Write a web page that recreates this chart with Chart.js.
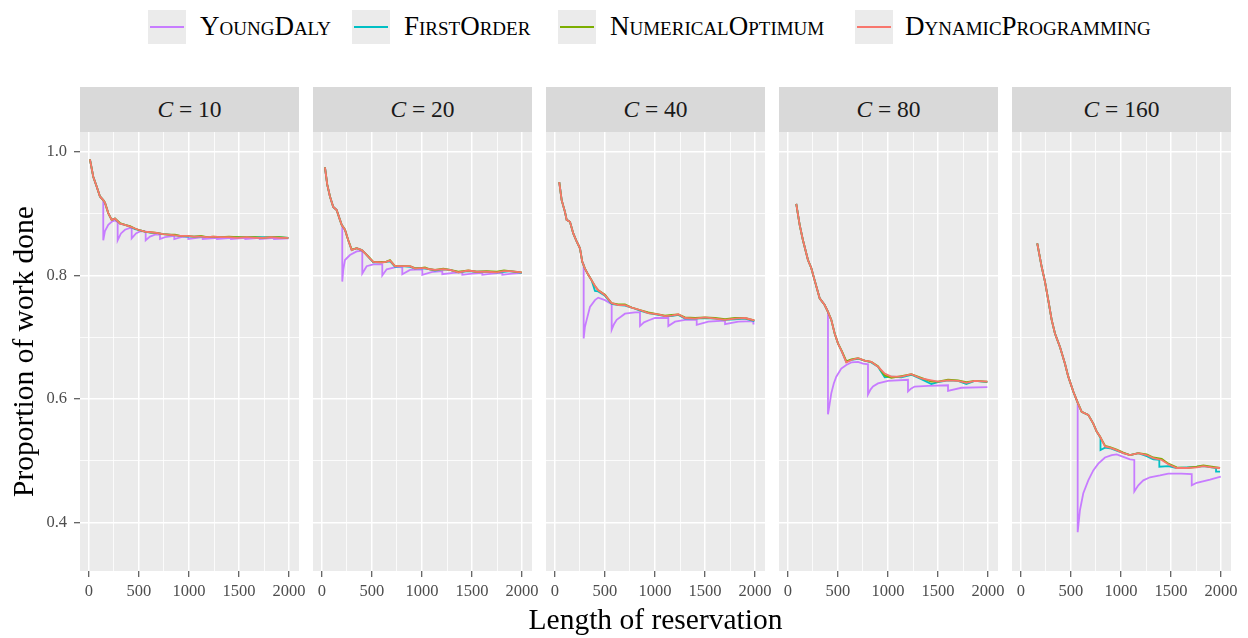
<!DOCTYPE html>
<html>
<head>
<meta charset="utf-8">
<script src="https://cdn.jsdelivr.net/npm/chart.js@4.4.1/dist/chart.umd.min.js"></script>
<style>
  html, body { margin:0; padding:0; background:#fff; }
  body { width:1248px; height:638px; overflow:hidden; position:relative; font-family:'Liberation Serif','Times New Roman',serif; }
  canvas { position:absolute; }
  .strip { position:absolute; top:87px; width:219px; height:45px; background:#D9D9D9; color:#1A1A1A;
           font-size:23.5px; line-height:45px; text-align:center; white-space:nowrap; }
  .key { position:absolute; top:10px; width:38px; height:34px; background:#EBEBEB; }
  .key span { position:absolute; left:2px; right:2px; top:16px; height:1.8px; }
  .ltext { position:absolute; top:13.4px; font-size:27px; line-height:1; font-variant:small-caps; color:#000; white-space:nowrap; }
  .xtitle { position:absolute; left:80px; width:1151px; top:605px; text-align:center; font-size:29.5px; line-height:1; color:#000; }
</style>
</head>
<body>
<div class="key" style="left:148px"><span style="background:#C77CFF"></span></div><div class="ltext" style="left:200px">YoungDaly</div>
<div class="key" style="left:352px"><span style="background:#00BFC4"></span></div><div class="ltext" style="left:404px">FirstOrder</div>
<div class="key" style="left:558px"><span style="background:#7CAE00"></span></div><div class="ltext" style="left:610px">NumericalOptimum</div>
<div class="key" style="left:855px"><span style="background:#F8766D"></span></div><div class="ltext" style="left:905px">DynamicProgramming</div>

<div id="strips"></div>
<canvas id="c0" width="311" height="489" style="left:0px;top:132px"></canvas>
<canvas id="c1" width="231" height="489" style="left:313px;top:132px"></canvas>
<canvas id="c2" width="231" height="489" style="left:546px;top:132px"></canvas>
<canvas id="c3" width="231" height="489" style="left:779px;top:132px"></canvas>
<canvas id="c4" width="231" height="489" style="left:1012px;top:132px"></canvas>
<div class="xtitle">Length of reservation</div>

<script>
// ---------------- data ----------------
const capacities = [10, 20, 40, 80, 160];
const seriesNames = ['YoungDaly', 'FirstOrder', 'NumericalOptimum', 'DynamicProgramming'];
const seriesColors = ['#C77CFF', '#00BFC4', '#7CAE00', '#F8766D'];
const xTickMajor = [0, 500, 1000, 1500, 2000];
const xTickMinor = [250, 750, 1250, 1750];
const yTickMajor = [0.4, 0.6, 0.8, 1.0];
const yTickMinor = [0.5, 0.7, 0.9];

// C = 10
const c10_x  = [10, 43, 77, 110, 143, 160, 193, 227, 260, 310, 360, 410, 460, 493, 560, 620, 677, 740, 800, 860, 910, 980, 1050, 1120, 1180, 1243, 1320, 1400, 1480, 1577, 1660, 1740, 1820, 1900, 1993];
const c10_dp = [0.988, 0.960, 0.944, 0.928, 0.922, 0.918, 0.901, 0.890, 0.892, 0.884, 0.882, 0.879, 0.876, 0.874, 0.871, 0.870, 0.869, 0.867, 0.866, 0.865, 0.864, 0.864, 0.863, 0.863, 0.862, 0.863, 0.862, 0.862, 0.861, 0.862, 0.861, 0.861, 0.862, 0.861, 0.861];
const c10_no = [0.988, 0.960, 0.944, 0.928, 0.922, 0.918, 0.901, 0.890, 0.892, 0.885, 0.882, 0.880, 0.876, 0.874, 0.871, 0.870, 0.869, 0.867, 0.866, 0.866, 0.864, 0.864, 0.863, 0.864, 0.862, 0.863, 0.862, 0.863, 0.862, 0.862, 0.862, 0.861, 0.862, 0.862, 0.861];
const c10_fo = [0.988, 0.960, 0.944, 0.928, 0.922, 0.918, 0.901, 0.890, 0.892, 0.884, 0.882, 0.879, 0.875, 0.874, 0.871, 0.869, 0.869, 0.867, 0.866, 0.865, 0.864, 0.863, 0.863, 0.863, 0.862, 0.862, 0.862, 0.862, 0.862, 0.862, 0.862, 0.862, 0.862, 0.862, 0.861];
const c10_ydX = [10, 43, 77, 110, 143, 143, 160, 193, 227, 260, 287, 287, 320, 360, 410, 427, 427, 470, 520, 567, 567, 610, 660, 710, 710, 760, 853, 853, 920, 993, 993, 1137, 1137, 1280, 1280, 1420, 1420, 1563, 1563, 1707, 1707, 1850, 1850, 1993];
const c10_ydY = [0.988, 0.960, 0.944, 0.928, 0.921, 0.857, 0.872, 0.882, 0.887, 0.889, 0.886, 0.857, 0.868, 0.874, 0.877, 0.876, 0.860, 0.868, 0.872, 0.871, 0.857, 0.863, 0.866, 0.866, 0.859, 0.862, 0.864, 0.859, 0.862, 0.863, 0.859, 0.862, 0.859, 0.861, 0.859, 0.861, 0.859, 0.861, 0.859, 0.861, 0.859, 0.861, 0.859, 0.860];

// C = 20
const c20_x  = [30, 53, 80, 113, 147, 180, 197, 230, 263, 297, 347, 397, 430, 463, 513, 597, 640, 680, 730, 800, 880, 930, 980, 1030, 1080, 1130, 1213, 1280, 1363, 1463, 1547, 1647, 1747, 1820, 1880, 1997];
const c20_dp = [0.975, 0.947, 0.928, 0.911, 0.906, 0.890, 0.882, 0.874, 0.857, 0.841, 0.844, 0.841, 0.836, 0.830, 0.822, 0.821, 0.822, 0.824, 0.815, 0.815, 0.815, 0.811, 0.812, 0.812, 0.810, 0.809, 0.810, 0.809, 0.805, 0.808, 0.806, 0.806, 0.805, 0.807, 0.807, 0.805];
const c20_no = [0.975, 0.947, 0.928, 0.911, 0.906, 0.890, 0.882, 0.874, 0.857, 0.842, 0.844, 0.841, 0.836, 0.831, 0.822, 0.822, 0.822, 0.825, 0.815, 0.815, 0.815, 0.812, 0.812, 0.813, 0.810, 0.809, 0.811, 0.809, 0.806, 0.808, 0.806, 0.807, 0.806, 0.808, 0.807, 0.805];
const c20_fo = [0.975, 0.947, 0.928, 0.911, 0.906, 0.890, 0.882, 0.874, 0.857, 0.841, 0.844, 0.841, 0.836, 0.830, 0.821, 0.821, 0.822, 0.823, 0.814, 0.815, 0.814, 0.811, 0.812, 0.811, 0.810, 0.808, 0.810, 0.809, 0.805, 0.807, 0.806, 0.806, 0.805, 0.806, 0.807, 0.804];
const c20_ydX = [30, 53, 80, 113, 147, 180, 203, 203, 213, 230, 280, 347, 403, 403, 447, 513, 603, 603, 647, 747, 803, 803, 880, 1003, 1003, 1113, 1203, 1203, 1313, 1403, 1403, 1500, 1603, 1603, 1700, 1803, 1803, 1900, 1997];
const c20_ydY = [0.975, 0.947, 0.928, 0.911, 0.906, 0.890, 0.880, 0.790, 0.809, 0.825, 0.833, 0.839, 0.840, 0.803, 0.815, 0.818, 0.818, 0.800, 0.810, 0.814, 0.813, 0.802, 0.809, 0.810, 0.801, 0.806, 0.807, 0.802, 0.804, 0.805, 0.801, 0.803, 0.804, 0.801, 0.803, 0.804, 0.801, 0.803, 0.804];

// C = 40
const c40_x  = [43, 67, 100, 117, 150, 183, 217, 250, 273, 300, 333, 367, 400, 433, 500, 567, 633, 700, 767, 850, 933, 1033, 1100, 1167, 1233, 1300, 1400, 1500, 1600, 1700, 1800, 1900, 1993];
const c40_dp = [0.951, 0.922, 0.903, 0.890, 0.887, 0.868, 0.855, 0.844, 0.822, 0.811, 0.801, 0.792, 0.783, 0.776, 0.768, 0.755, 0.752, 0.752, 0.748, 0.744, 0.739, 0.737, 0.734, 0.735, 0.737, 0.731, 0.730, 0.732, 0.730, 0.728, 0.730, 0.731, 0.727];
const c40_no = [0.951, 0.922, 0.903, 0.890, 0.887, 0.868, 0.855, 0.844, 0.822, 0.811, 0.801, 0.792, 0.783, 0.776, 0.769, 0.755, 0.753, 0.753, 0.748, 0.744, 0.740, 0.737, 0.735, 0.736, 0.737, 0.732, 0.731, 0.732, 0.731, 0.729, 0.731, 0.731, 0.727];
const c40_fo = [0.951, 0.922, 0.903, 0.890, 0.887, 0.868, 0.855, 0.844, 0.822, 0.811, 0.801, 0.792, 0.775, 0.774, 0.767, 0.754, 0.752, 0.751, 0.748, 0.743, 0.739, 0.736, 0.734, 0.734, 0.736, 0.730, 0.730, 0.731, 0.730, 0.728, 0.729, 0.730, 0.726];
const c40_ydX = [43, 67, 100, 117, 150, 183, 217, 250, 273, 287, 287, 300, 317, 350, 400, 433, 500, 550, 567, 567, 590, 617, 700, 800, 850, 850, 890, 933, 1000, 1133, 1133, 1200, 1300, 1417, 1417, 1533, 1700, 1700, 1833, 1983, 1983, 1993];
const c40_ydY = [0.951, 0.922, 0.903, 0.890, 0.887, 0.868, 0.855, 0.844, 0.822, 0.818, 0.698, 0.717, 0.728, 0.749, 0.760, 0.764, 0.760, 0.755, 0.754, 0.712, 0.721, 0.728, 0.738, 0.740, 0.740, 0.718, 0.724, 0.727, 0.731, 0.731, 0.718, 0.725, 0.728, 0.728, 0.720, 0.725, 0.727, 0.721, 0.725, 0.726, 0.722, 0.722];

// C = 80
const c80_x  = [83, 117, 150, 200, 233, 267, 317, 367, 400, 433, 467, 500, 540, 583, 633, 700, 767, 833, 900, 967, 1033, 1133, 1233, 1333, 1433, 1500, 1600, 1700, 1783, 1867, 1993];
const c80_dp = [0.916, 0.882, 0.857, 0.825, 0.812, 0.792, 0.763, 0.752, 0.741, 0.728, 0.706, 0.690, 0.676, 0.659, 0.663, 0.666, 0.662, 0.660, 0.652, 0.641, 0.636, 0.636, 0.640, 0.633, 0.630, 0.628, 0.630, 0.629, 0.626, 0.629, 0.628];
const c80_no = [0.916, 0.882, 0.857, 0.825, 0.812, 0.792, 0.763, 0.752, 0.741, 0.728, 0.706, 0.690, 0.677, 0.661, 0.664, 0.666, 0.662, 0.660, 0.653, 0.638, 0.634, 0.637, 0.640, 0.634, 0.628, 0.628, 0.631, 0.630, 0.627, 0.629, 0.628];
const c80_fo = [0.916, 0.882, 0.857, 0.825, 0.812, 0.792, 0.763, 0.752, 0.741, 0.728, 0.706, 0.690, 0.676, 0.660, 0.663, 0.665, 0.662, 0.659, 0.652, 0.635, 0.636, 0.635, 0.639, 0.632, 0.624, 0.627, 0.630, 0.629, 0.624, 0.629, 0.627];
const c80_ydX = [83, 117, 150, 200, 233, 267, 317, 367, 400, 400, 417, 433, 458, 483, 533, 583, 633, 700, 750, 800, 800, 825, 850, 900, 1000, 1200, 1200, 1233, 1267, 1400, 1600, 1600, 1733, 1993];
const c80_ydY = [0.916, 0.882, 0.857, 0.825, 0.812, 0.792, 0.763, 0.752, 0.741, 0.575, 0.592, 0.609, 0.625, 0.636, 0.649, 0.655, 0.659, 0.660, 0.657, 0.656, 0.607, 0.615, 0.620, 0.625, 0.629, 0.631, 0.612, 0.617, 0.620, 0.621, 0.622, 0.613, 0.618, 0.619];

// C = 160
const c160_x  = [163, 207, 240, 273, 307, 340, 390, 440, 473, 523, 567, 607, 673, 723, 757, 790, 840, 890, 957, 1023, 1090, 1173, 1257, 1323, 1407, 1473, 1557, 1657, 1757, 1823, 1907, 1990];
const c160_dp = [0.852, 0.814, 0.790, 0.760, 0.728, 0.706, 0.684, 0.657, 0.636, 0.612, 0.594, 0.579, 0.574, 0.560, 0.547, 0.539, 0.523, 0.521, 0.517, 0.512, 0.509, 0.512, 0.509, 0.504, 0.501, 0.494, 0.488, 0.488, 0.489, 0.491, 0.489, 0.488];
const c160_no = [0.852, 0.814, 0.790, 0.760, 0.728, 0.706, 0.684, 0.657, 0.636, 0.612, 0.594, 0.579, 0.574, 0.560, 0.547, 0.539, 0.524, 0.522, 0.518, 0.513, 0.509, 0.512, 0.510, 0.505, 0.503, 0.495, 0.489, 0.488, 0.490, 0.492, 0.490, 0.488];
const c160_foX = [163, 207, 240, 273, 307, 340, 390, 440, 473, 523, 567, 607, 673, 723, 757, 795, 795, 840, 890, 957, 1023, 1090, 1173, 1257, 1323, 1383, 1383, 1473, 1557, 1657, 1757, 1823, 1907, 1950, 1950, 1990];
const c160_fo  = [0.852, 0.814, 0.790, 0.760, 0.728, 0.706, 0.684, 0.657, 0.636, 0.612, 0.594, 0.579, 0.574, 0.560, 0.547, 0.537, 0.517, 0.521, 0.520, 0.516, 0.512, 0.509, 0.512, 0.507, 0.502, 0.501, 0.490, 0.491, 0.488, 0.489, 0.490, 0.491, 0.489, 0.488, 0.482, 0.482];
const c160_ydX = [163, 207, 240, 273, 307, 340, 390, 440, 473, 523, 567, 567, 590, 623, 673, 723, 773, 840, 907, 957, 1023, 1090, 1133, 1133, 1173, 1223, 1290, 1390, 1473, 1600, 1707, 1707, 1757, 1890, 1997];
const c160_ydY = [0.852, 0.814, 0.790, 0.760, 0.728, 0.706, 0.684, 0.657, 0.636, 0.612, 0.594, 0.384, 0.420, 0.447, 0.468, 0.484, 0.495, 0.505, 0.509, 0.510, 0.506, 0.502, 0.501, 0.450, 0.460, 0.468, 0.473, 0.476, 0.479, 0.479, 0.478, 0.460, 0.464, 0.469, 0.474];

// ---------------- assembly ----------------
const panelSeries = [
  [[c10_ydX, c10_ydY], [c10_x, c10_fo], [c10_x, c10_no], [c10_x, c10_dp]],
  [[c20_ydX, c20_ydY], [c20_x, c20_fo], [c20_x, c20_no], [c20_x, c20_dp]],
  [[c40_ydX, c40_ydY], [c40_x, c40_fo], [c40_x, c40_no], [c40_x, c40_dp]],
  [[c80_ydX, c80_ydY], [c80_x, c80_fo], [c80_x, c80_no], [c80_x, c80_dp]],
  [[c160_ydX, c160_ydY], [c160_foX, c160_fo], [c160_x, c160_no], [c160_x, c160_dp]]
];

const FONT = "'Liberation Serif','Times New Roman',serif";
const near = (arr, v) => arr.some(m => Math.abs(m - v) < 1e-9);
const xAll = xTickMajor.concat(xTickMinor).sort((a, b) => a - b);
const yAll = yTickMajor.concat(yTickMinor).sort((a, b) => a - b);
const pts = (xs, ys) => xs.map((x, k) => ({x: x, y: ys[k]}));

const panelBg = {
  id: 'panelBg',
  beforeDraw(chart) {
    const a = chart.chartArea, ctx = chart.ctx;
    ctx.save();
    ctx.fillStyle = '#EBEBEB';
    ctx.fillRect(a.left, a.top, a.right - a.left, a.bottom - a.top);
    ctx.restore();
  }
};

// strips
const stripHolder = document.getElementById('strips');
capacities.forEach((c, i) => {
  const d = document.createElement('div');
  d.className = 'strip';
  d.style.left = (80 + 233 * i) + 'px';
  d.innerHTML = '<i>C</i> = ' + c;
  stripHolder.appendChild(d);
});

capacities.forEach((c, i) => {
  const first = i === 0;
  const datasets = seriesNames.map((name, s) => ({
    label: name,
    data: pts(panelSeries[i][s][0], panelSeries[i][s][1]),
    borderColor: seriesColors[s],
    backgroundColor: seriesColors[s],
    borderWidth: 1.8,
    pointRadius: 0,
    tension: 0,
    fill: false,
    order: 4 - s
  }));
  new Chart(document.getElementById('c' + i), {
    type: 'line',
    data: { datasets: datasets },
    options: {
      responsive: false,
      animation: false,
      events: [],
      layout: { padding: { left: 0, right: 12, top: 0, bottom: 0 } },
      plugins: { legend: { display: false }, tooltip: { enabled: false } },
      scales: {
        x: {
          type: 'linear', min: -89.5, max: 2099.5,
          afterBuildTicks: s => { s.ticks = xAll.map(v => ({ value: v })); },
          afterFit: s => { s.height = 50; s.paddingLeft = 0; s.paddingRight = 0; },
          border: { display: false },
          grid: {
            color: '#FFFFFF',
            lineWidth: ctx => (ctx.tick && near(xTickMajor, ctx.tick.value)) ? 1.5 : 0.8,
            drawTicks: true, tickLength: 6, tickWidth: 1,
            tickColor: ctx => (ctx.tick && near(xTickMajor, ctx.tick.value)) ? '#333333' : 'rgba(0,0,0,0)'
          },
          ticks: {
            autoSkip: false, maxRotation: 0, minRotation: 0, padding: 4.5,
            color: '#4D4D4D', font: { family: FONT, size: 16.5 },
            callback: v => near(xTickMajor, v) ? String(v) : ''
          }
        },
        y: {
          type: 'linear', min: 0.3211, max: 1.0324, position: 'left',
          afterBuildTicks: s => { s.ticks = yAll.map(v => ({ value: v })); },
          afterFit: s => { s.width = first ? 80 : 0; s.paddingTop = 0; s.paddingBottom = 0; },
          border: { display: false },
          grid: {
            color: '#FFFFFF',
            lineWidth: ctx => (ctx.tick && near(yTickMajor, ctx.tick.value)) ? 1.5 : 0.8,
            drawTicks: first, tickLength: 6, tickWidth: 1,
            tickColor: ctx => (ctx.tick && near(yTickMajor, ctx.tick.value)) ? '#333333' : 'rgba(0,0,0,0)'
          },
          ticks: {
            display: first, padding: 7,
            color: '#4D4D4D', font: { family: FONT, size: 16.5 },
            callback: v => near(yTickMajor, v) ? Number(v).toFixed(1) : ''
          },
          title: {
            display: first, text: 'Proportion of work done', color: '#000000',
            font: { family: FONT, size: 29.5 }, padding: { top: 8, bottom: 0 }
          }
        }
      }
    },
    plugins: [panelBg]
  });
});
</script>
</body>
</html>
